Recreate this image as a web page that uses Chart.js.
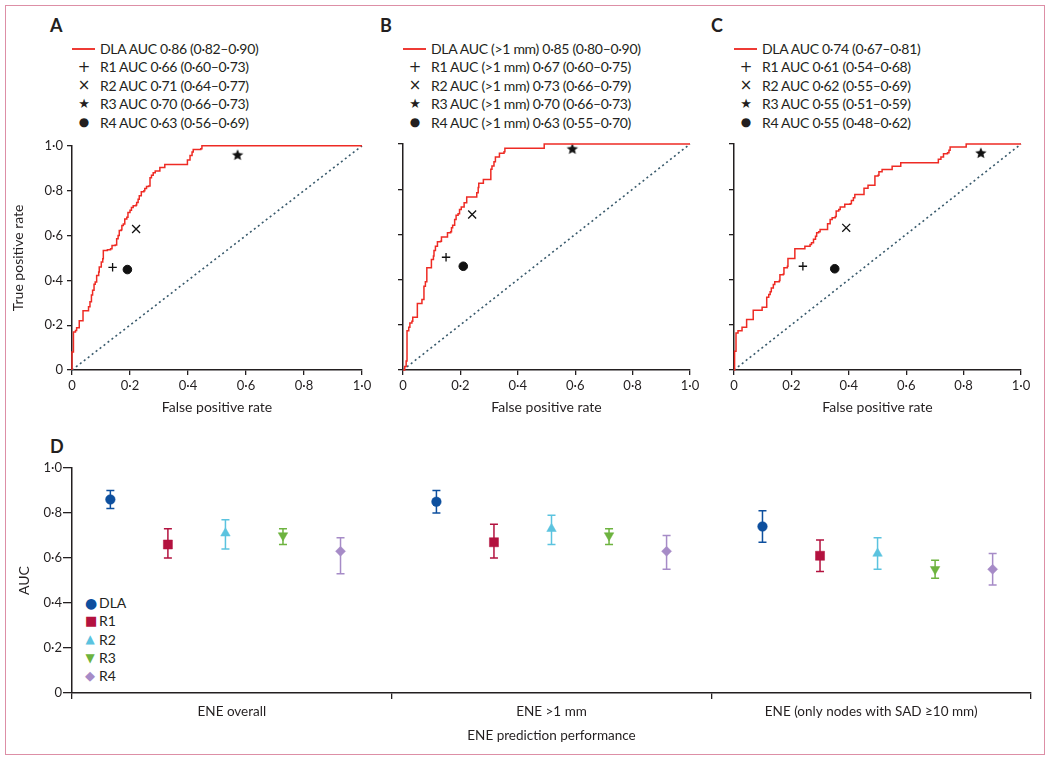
<!DOCTYPE html>
<html>
<head>
<meta charset="utf-8">
<script src="https://cdn.jsdelivr.net/npm/chart.js@4.4.1/dist/chart.umd.min.js"></script>
<style>
  body { margin: 0; background: #fff; font-family: Lato, "Open Sans", sans-serif; color: #231f20; }
  #page { position: relative; width: 1050px; height: 759px; overflow: hidden; }
  #frame { position: absolute; left: 5px; top: 5px; width: 1040px; height: 750px; box-sizing: border-box; border: 1.5px solid #dd8fa6; }
  canvas { position: absolute; }
  .letter { position: absolute; font-size: 18px; font-weight: 700; line-height: 18px; }
  .legend { position: absolute; font-size: 14px; letter-spacing: -0.3px; }
  .legend .row { display: flex; align-items: center; height: 18.5px; white-space: nowrap; }
  .legend .sym { width: 28px; position: relative; height: 18px; font-family: "DejaVu Sans", sans-serif; letter-spacing: 0; }
  .legend .sym span { position: absolute; left: 0; width: 24px; text-align: center; top: 0; line-height: 18px; }
  .legend .line { position: absolute; left: 0; top: 9px; width: 23px; height: 0; border-top: 2px solid #ee3b35; }
  .dleg { letter-spacing: 0; }
  .dleg .row { height: 18.3px; }
  .dleg .sym span { width: 10px; left: 0; }
</style>
</head>
<body>
<div id="page">
  <div id="frame"></div>

  <div class="letter" style="left:50px;top:16px">A</div>
  <div class="letter" style="left:380px;top:16px">B</div>
  <div class="letter" style="left:711px;top:16px">C</div>
  <div class="letter" style="left:50px;top:437px">D</div>

  <div class="legend" id="legA" style="left:72px;top:39px"></div>
  <div class="legend" id="legB" style="left:403px;top:39px"></div>
  <div class="legend" id="legC" style="left:734px;top:39px"></div>
  <div class="legend dleg" id="legD" style="left:85px;top:593.5px"></div>

  <canvas id="rocA" width="380" height="290" style="left:0px;top:134px"></canvas>
  <canvas id="rocB" width="325" height="290" style="left:383px;top:134px"></canvas>
  <canvas id="rocC" width="325" height="290" style="left:714px;top:134px"></canvas>
  <canvas id="aucD" width="1045" height="290" style="left:0px;top:458px"></canvas>
</div>

<script>
// ROC curves of the DLA as [false positive rate, true positive rate]
const dlaCurveA = [[0,0],[0,0.08],[0.005,0.08],[0.005,0.17],[0.012,0.176],[0.016,0.189],[0.025,0.22],[0.038,0.22],[0.038,0.264],[0.05,0.264],[0.057,0.282],[0.062,0.304],[0.067,0.334],[0.071,0.356],[0.076,0.383],[0.08,0.393],[0.085,0.422],[0.092,0.437],[0.094,0.459],[0.101,0.482],[0.106,0.496],[0.108,0.533],[0.122,0.536],[0.133,0.541],[0.138,0.555],[0.149,0.558],[0.154,0.585],[0.159,0.6],[0.163,0.622],[0.17,0.626],[0.172,0.644],[0.177,0.651],[0.182,0.674],[0.189,0.681],[0.193,0.703],[0.2,0.713],[0.205,0.725],[0.211,0.733],[0.221,0.736],[0.223,0.747],[0.228,0.762],[0.232,0.777],[0.239,0.795],[0.248,0.799],[0.251,0.809],[0.257,0.818],[0.264,0.821],[0.269,0.858],[0.274,0.869],[0.28,0.88],[0.287,0.888],[0.297,0.888],[0.303,0.903],[0.317,0.903],[0.32,0.917],[0.393,0.917],[0.398,0.937],[0.407,0.957],[0.414,0.972],[0.418,0.984],[0.444,0.987],[0.448,1],[1,1]];
const dlaCurveB = [[0,0],[0.006,0.015],[0.011,0.04],[0.014,0.06],[0.014,0.174],[0.02,0.189],[0.024,0.208],[0.031,0.216],[0.034,0.233],[0.048,0.233],[0.05,0.294],[0.062,0.294],[0.066,0.312],[0.073,0.371],[0.078,0.39],[0.083,0.452],[0.097,0.452],[0.099,0.489],[0.106,0.504],[0.108,0.529],[0.113,0.548],[0.12,0.567],[0.131,0.57],[0.134,0.588],[0.15,0.588],[0.155,0.607],[0.166,0.612],[0.169,0.629],[0.173,0.641],[0.18,0.666],[0.185,0.685],[0.192,0.691],[0.197,0.71],[0.203,0.721],[0.213,0.74],[0.222,0.765],[0.255,0.765],[0.257,0.784],[0.262,0.807],[0.264,0.826],[0.278,0.826],[0.28,0.843],[0.303,0.843],[0.306,0.888],[0.31,0.903],[0.317,0.922],[0.322,0.942],[0.334,0.942],[0.336,0.959],[0.352,0.966],[0.355,0.981],[0.49,0.981],[0.492,1],[1,1]];
const dlaCurveC = [[0,0],[0.002,0.083],[0.007,0.083],[0.007,0.164],[0.014,0.174],[0.028,0.189],[0.035,0.189],[0.044,0.223],[0.065,0.223],[0.067,0.264],[0.091,0.264],[0.098,0.278],[0.112,0.278],[0.114,0.322],[0.121,0.334],[0.126,0.346],[0.13,0.363],[0.137,0.378],[0.142,0.39],[0.158,0.396],[0.16,0.422],[0.172,0.425],[0.174,0.452],[0.186,0.459],[0.188,0.493],[0.209,0.493],[0.212,0.536],[0.242,0.536],[0.247,0.548],[0.265,0.555],[0.27,0.563],[0.277,0.578],[0.284,0.592],[0.288,0.607],[0.295,0.612],[0.3,0.622],[0.321,0.622],[0.326,0.647],[0.335,0.666],[0.342,0.674],[0.353,0.679],[0.356,0.703],[0.365,0.71],[0.37,0.721],[0.384,0.721],[0.386,0.733],[0.405,0.736],[0.409,0.75],[0.416,0.762],[0.421,0.777],[0.449,0.777],[0.453,0.804],[0.467,0.818],[0.486,0.818],[0.491,0.858],[0.502,0.862],[0.505,0.877],[0.516,0.887],[0.551,0.887],[0.551,0.902],[0.581,0.902],[0.581,0.917],[0.707,0.917],[0.712,0.932],[0.721,0.942],[0.73,0.957],[0.744,0.961],[0.749,0.972],[0.753,0.987],[0.807,0.987],[0.809,1],[1,1]];

// reader operating points R1..R4 as [fpr, tpr]
const readersA = [[0.14,0.458],[0.221,0.629],[0.571,0.96],[0.191,0.448]];
const readersB = [[0.15,0.499],[0.241,0.688],[0.59,0.979],[0.21,0.459]];
const readersC = [[0.24,0.459],[0.391,0.629],[0.86,0.961],[0.351,0.448]];

const legendA = ['DLA AUC 0·86 (0·82–0·90)','R1 AUC 0·66 (0·60–0·73)','R2 AUC 0·71 (0·64–0·77)','R3 AUC 0·70 (0·66–0·73)','R4 AUC 0·63 (0·56–0·69)'];
const legendB = ['DLA AUC (>1 mm) 0·85 (0·80–0·90)','R1 AUC (>1 mm) 0·67 (0·60–0·75)','R2 AUC (>1 mm) 0·73 (0·66–0·79)','R3 AUC (>1 mm) 0·70 (0·66–0·73)','R4 AUC (>1 mm) 0·63 (0·55–0·70)'];
const legendC = ['DLA AUC 0·74 (0·67–0·81)','R1 AUC 0·61 (0·54–0·68)','R2 AUC 0·62 (0·55–0·69)','R3 AUC 0·55 (0·51–0·59)','R4 AUC 0·55 (0·48–0·62)'];

// panel D: AUC with 95% CI per ENE definition (rows) and reader (columns DLA, R1..R4)
const enePanels = ['ENE overall', 'ENE >1 mm', 'ENE (only nodes with SAD ≥10 mm)'];
const readerNames = ['DLA', 'R1', 'R2', 'R3', 'R4'];
const aucPoint = [[0.86,0.66,0.71,0.70,0.63],[0.85,0.67,0.73,0.70,0.63],[0.74,0.61,0.62,0.55,0.55]];
const aucLow   = [[0.82,0.60,0.64,0.66,0.53],[0.80,0.60,0.66,0.66,0.55],[0.67,0.54,0.55,0.51,0.48]];
const aucHigh  = [[0.90,0.73,0.77,0.73,0.69],[0.90,0.75,0.79,0.73,0.70],[0.81,0.68,0.69,0.59,0.62]];

const tickValues = [0, 0.2, 0.4, 0.6, 0.8, 1.0];
const tickLabels = ['0', '0·2', '0·4', '0·6', '0·8', '1·0'];

const FONT = 'Lato, "Open Sans", sans-serif';
const INK = '#231f20';
const readerColors = ['#0d4f9e', '#b3123f', '#5bc3df', '#6db33f', '#a68bc7'];
const readerStyles = ['circle', 'rect', 'triangle', 'triangle', 'rectRot'];
const readerRadius = [4.8, 6.4, 5.5, 5.5, 5];
const readerRotation = [0, 0, 0, 180, 0];

// little filled star for R3 (Chart.js 'star' is an asterisk)
function makeStar(r) {
  const c = document.createElement('canvas');
  c.width = c.height = Math.ceil(r * 2 + 2);
  const g = c.getContext('2d');
  const cx = c.width / 2, cy = c.height / 2 + 0.5;
  g.beginPath();
  for (let i = 0; i < 10; i++) {
    const rr = i % 2 ? r * 0.45 : r;
    const a = -Math.PI / 2 + i * Math.PI / 5;
    g.lineTo(cx + rr * Math.cos(a), cy + rr * Math.sin(a));
  }
  g.closePath();
  g.fillStyle = '#111';
  g.fill();
  return c;
}
const starIcon = makeStar(6);

function tickText(v) {
  const i = tickValues.findIndex(t => Math.abs(t - v) < 1e-6);
  return i < 0 ? '' : tickLabels[i];
}

function rocChart(id, curve, pts, yWidth, withYLabels) {
  const marks = [
    { style: 'cross', r: 4.2, w: 1.3 },
    { style: 'crossRot', r: 5.6, w: 1.3 },
    { style: starIcon, r: 6, w: 1 },
    { style: 'circle', r: 4.3, w: 1 }
  ];
  const readerSets = pts.map((p, i) => ({
    data: [{ x: p[0], y: p[1] }],
    pointStyle: marks[i].style,
    pointRadius: marks[i].r,
    pointBorderWidth: marks[i].w,
    pointBorderColor: '#111',
    pointBackgroundColor: '#111',
    clip: false
  }));
  return new Chart(document.getElementById(id), {
    type: 'scatter',
    data: {
      datasets: [
        { data: curve.map(p => ({ x: p[0], y: p[1] })), showLine: true, stepped: 'before',
          borderColor: '#ee2b24', borderWidth: 1.5, pointRadius: 0, clip: 4 },
        { data: [{ x: 0, y: 0 }, { x: 1, y: 1 }], showLine: true, borderColor: '#38596b',
          borderWidth: 1.6, borderDash: [2, 3], pointRadius: 0, clip: 4 }
      ].concat(readerSets)
    },
    options: {
      responsive: false,
      animation: false,
      events: [],
      layout: { padding: { left: 0, top: 10, right: 18, bottom: 0 } },
      plugins: { legend: { display: false }, tooltip: { enabled: false } },
      scales: {
        x: {
          type: 'linear', min: 0, max: 1,
          afterBuildTicks: s => { s.ticks = tickValues.map(v => ({ value: v })); },
          afterFit: s => { s.height = 54; },
          ticks: { callback: v => tickText(v), autoSkip: false, maxRotation: 0, padding: 3,
                   color: INK, font: { family: FONT, size: 13 } },
          grid: { drawOnChartArea: false, drawTicks: true, tickLength: 5, color: INK, lineWidth: 1.3 },
          border: { color: INK, width: 1.5 },
          title: { display: true, text: 'False positive rate', color: INK,
                   font: { family: FONT, size: 14 }, padding: { top: 0, bottom: 8 } }
        },
        y: {
          type: 'linear', min: 0, max: 1,
          afterBuildTicks: s => { s.ticks = tickValues.map(v => ({ value: v })); },
          afterFit: s => { s.width = yWidth; },
          ticks: { display: withYLabels, callback: v => tickText(v), autoSkip: false, padding: 4,
                   color: INK, font: { family: FONT, size: 13 } },
          grid: { drawOnChartArea: false, drawTicks: true, tickLength: 5, color: INK, lineWidth: 1.3 },
          border: { color: INK, width: 1.5 },
          title: { display: withYLabels, text: 'True positive rate', color: INK,
                   font: { family: FONT, size: 14 }, padding: { top: 10, bottom: 0 } }
        }
      }
    }
  });
}

rocChart('rocA', dlaCurveA, readersA, 72, true);
rocChart('rocB', dlaCurveB, readersB, 20, false);
rocChart('rocC', dlaCurveC, readersC, 20, false);

// html legends for the ROC panels
const rocSymbols = ['', '+', '×', '★', '●'];
const rocSymbolSize = ['14px', '15px', '15px', '13px', '12px'];
function fillLegend(id, texts) {
  const box = document.getElementById(id);
  texts.forEach((t, i) => {
    const row = document.createElement('div');
    row.className = 'row';
    const sym = document.createElement('div');
    sym.className = 'sym';
    if (i === 0) {
      const ln = document.createElement('div');
      ln.className = 'line';
      sym.appendChild(ln);
    } else {
      const s = document.createElement('span');
      s.textContent = rocSymbols[i];
      s.style.fontSize = rocSymbolSize[i];
      sym.appendChild(s);
    }
    const lab = document.createElement('span');
    lab.textContent = t;
    row.appendChild(sym);
    row.appendChild(lab);
    box.appendChild(row);
  });
}
fillLegend('legA', legendA);
fillLegend('legB', legendB);
fillLegend('legC', legendC);

// panel D legend
const dSymbols = ['●', '■', '▲', '▼', '◆'];
const dSymbolSize = ['14px', '13px', '12px', '12px', '13px'];
(function () {
  const box = document.getElementById('legD');
  readerNames.forEach((n, i) => {
    const row = document.createElement('div');
    row.className = 'row';
    const sym = document.createElement('div');
    sym.className = 'sym';
    const s = document.createElement('span');
    s.textContent = dSymbols[i];
    s.style.color = readerColors[i];
    s.style.fontSize = dSymbolSize[i];
    sym.style.width = '14px';
    sym.appendChild(s);
    const lab = document.createElement('span');
    lab.textContent = n;
    row.appendChild(sym);
    row.appendChild(lab);
    box.appendChild(row);
  });
})();

// error bars drawn under the markers, from the y scale
const errorBars = {
  id: 'errorBars',
  beforeDatasetsDraw(chart) {
    const ctx = chart.ctx, ys = chart.scales.y;
    chart.data.datasets.forEach((ds, j) => {
      chart.getDatasetMeta(j).data.forEach((pt, g) => {
        const top = ys.getPixelForValue(aucHigh[g][j]);
        const bot = ys.getPixelForValue(aucLow[g][j]);
        ctx.save();
        ctx.strokeStyle = ds.borderColor;
        ctx.lineWidth = 1.5;
        ctx.beginPath();
        ctx.moveTo(pt.x, top); ctx.lineTo(pt.x, bot);
        ctx.moveTo(pt.x - 4, top); ctx.lineTo(pt.x + 4, top);
        ctx.moveTo(pt.x - 4, bot); ctx.lineTo(pt.x + 4, bot);
        ctx.stroke();
        ctx.restore();
      });
    });
  }
};

const dSets = readerNames.map((name, j) => ({
  label: name,
  data: aucPoint.map((row, g) => ({ x: g + 0.12 + 0.18 * j + 0.02 * g, y: row[j] })),
  pointStyle: readerStyles[j],
  pointRadius: readerRadius[j],
  rotation: readerRotation[j],
  pointBackgroundColor: readerColors[j],
  pointBorderColor: readerColors[j],
  borderColor: readerColors[j],
  pointBorderWidth: 0.5,
  clip: false
}));

new Chart(document.getElementById('aucD'), {
  type: 'scatter',
  data: { datasets: dSets },
  options: {
    responsive: false,
    animation: false,
    events: [],
    layout: { padding: { left: 0, top: 10, right: 14, bottom: 0 } },
    plugins: { legend: { display: false }, tooltip: { enabled: false } },
    scales: {
      x: {
        type: 'linear', min: 0, max: 3,
        afterBuildTicks: s => { s.ticks = [0, 0.5, 1, 1.5, 2, 2.5, 3].map(v => ({ value: v })); },
        afterFit: s => { s.height = 55; },
        ticks: { callback: v => (v % 1 ? enePanels[Math.floor(v)] : ''), autoSkip: false, maxRotation: 0,
                 padding: 5, color: INK, font: { family: FONT, size: 13.5 } },
        grid: { drawOnChartArea: false, drawTicks: true, tickLength: 6, lineWidth: 1.3,
                color: c => (c.tick && c.tick.value % 1 === 0) ? INK : 'rgba(0,0,0,0)' },
        border: { color: INK, width: 1.5 },
        title: { display: true, text: 'ENE prediction performance', color: INK,
                 font: { family: FONT, size: 13.5 }, padding: { top: 0, bottom: 4 } }
      },
      y: {
        type: 'linear', min: 0, max: 1,
        afterBuildTicks: s => { s.ticks = tickValues.map(v => ({ value: v })); },
        afterFit: s => { s.width = 72; },
        ticks: { callback: v => tickText(v), autoSkip: false, padding: 1, color: INK,
                 font: { family: FONT, size: 13 } },
        grid: { drawOnChartArea: false, drawTicks: true, tickLength: 9, color: INK, lineWidth: 1.3 },
        border: { color: INK, width: 1.5 },
        title: { display: true, text: 'AUC', color: INK, font: { family: FONT, size: 14 },
                 padding: { top: 16, bottom: 0 } }
      }
    }
  },
  plugins: [errorBars]
});
</script>
</body>
</html>
